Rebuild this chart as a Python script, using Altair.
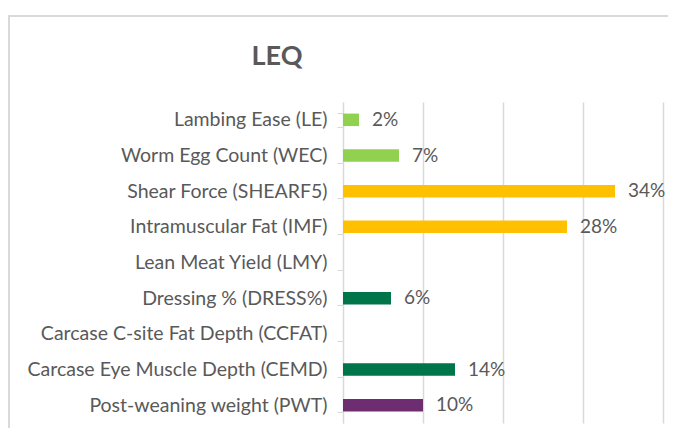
import altair as alt
import pandas as pd

traits = [
    "Lambing Ease (LE)",
    "Worm Egg Count (WEC)",
    "Shear Force (SHEARF5)",
    "Intramuscular Fat (IMF)",
    "Lean Meat Yield (LMY)",
    "Dressing % (DRESS%)",
    "Carcase C-site Fat Depth (CCFAT)",
    "Carcase Eye Muscle Depth (CEMD)",
    "Post-weaning weight (PWT)",
]
values = [0.02, 0.07, 0.34, 0.28, None, 0.06, None, 0.14, 0.10]
groups = ["Health", "Health", "Eating", "Eating", "Carcase", "Carcase", "Carcase", "Carcase", "Growth"]
group_names = ["Health", "Eating", "Carcase", "Growth"]
group_colors = ["#92D050", "#FFC000", "#00754A", "#6E2C71"]
x_ticks = [0, 0.1, 0.2, 0.3, 0.4]

df = pd.DataFrame({"trait": traits, "value": values, "group": groups})
FONT = "Lato"
GREY = "#595959"

base = alt.Chart(df)

bars = base.mark_bar(size=12.5).encode(
    y=alt.Y("trait:N", sort=traits, title=None,
            scale=alt.Scale(paddingInner=0.6, paddingOuter=0.3),
            axis=alt.Axis(tickBand="extent", labelFont=FONT, labelFontSize=19.5,
                          labelColor=GREY, labelPadding=10, domainColor="#d9d9d9",
                          tickColor="#d9d9d9", tickSize=6, grid=False, labelLimit=400)),
    x=alt.X("value:Q", title=None, scale=alt.Scale(domain=[0, 0.4], nice=False),
            axis=alt.Axis(values=x_ticks, labels=False, ticks=False, domain=False,
                          grid=True, gridColor="#d9d9d9", gridWidth=1.5)),
    color=alt.Color("group:N", scale=alt.Scale(domain=group_names, range=group_colors), legend=None),
)

labels = base.mark_text(align="left", baseline="middle", dx=13, font=FONT, fontSize=19,
                        color=GREY).encode(
    y=alt.Y("trait:N", sort=traits),
    x=alt.X("value:Q"),
    text=alt.Text("value:Q", format=".0%"),
).transform_filter("isValid(datum.value)")

deco = alt.Chart(pd.DataFrame({"k": [0]}))
frame = deco.mark_rect(filled=False, stroke="#d9d9d9", strokeWidth=2).encode(
    x=alt.value(-334), x2=alt.value(1200), y=alt.value(-86), y2=alt.value(1200)
)
title = deco.mark_text(text="LEQ", font=FONT, fontSize=27, fontWeight="bold", color=GREY,
                       align="center", baseline="middle").encode(
    x=alt.value(-66), y=alt.value(-45)
)

chart = alt.layer(frame, bars, labels, title).properties(
    width=320, height=321,
    autosize=alt.AutoSizeParams(type="none"),
    padding={"left": 335, "top": 94, "right": 5, "bottom": 5},
).configure_view(stroke=None)

chart.save("out.html", embed_options={"renderer": "svg", "actions": False})
